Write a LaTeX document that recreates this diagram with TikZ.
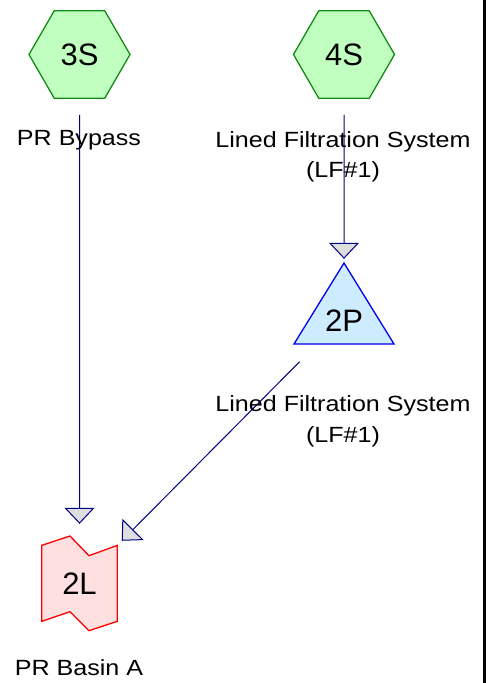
\documentclass[tikz,border=0pt]{standalone}
\usepackage{fontspec}
\setmainfont{Liberation Sans}
\newfontfamily\tagfont[FakeStretch=1.14]{Liberation Sans}
\usetikzlibrary{arrows.meta,shapes.geometric,backgrounds}

\definecolor{srcfill}{RGB}{192,255,192}
\definecolor{srcline}{RGB}{20,140,20}
\definecolor{pondfill}{RGB}{206,236,255}
\definecolor{pondline}{RGB}{0,0,235}
\definecolor{basinfill}{RGB}{255,224,224}
\definecolor{basinline}{RGB}{255,0,0}
\definecolor{linkcol}{RGB}{0,0,128}
\definecolor{tipfill}{RGB}{222,222,222}

\tikzset{
	source/.style={regular polygon, regular polygon sides=6, minimum size=101pt, inner sep=0pt,
		draw=srcline, fill=srcfill, line width=1.3pt, font=\fontsize{31}{31}\selectfont},
	pond/.style={minimum width=100pt, minimum height=81pt, inner sep=0pt,
		text height=55pt, text depth=0pt, font=\fontsize{31}{31}\selectfont},
	basin/.style={minimum width=75.6pt, minimum height=94.7pt, inner sep=0pt,
		font=\fontsize{31}{31}\selectfont},
	tag/.style={align=center, inner sep=0pt, font=\tagfont\fontsize{22}{30.5}\selectfont},
	link/.style={draw=linkcol, line width=1pt, -{Triangle[width=30pt,length=16pt,fill=tipfill]}},
}

\begin{document}
\begin{tikzpicture}[x=1pt, y=-1pt]
			\useasboundingbox (0,0) rectangle (489,683);
			
			%Subcatchments
			\node[source] (s3) at (79.5,54.5) {3S};
			\node[source] (s4) at (344,54.5) {4S};
			
			%Pond
			\node[pond] (p2) at (344,303.5) {2P};
			\begin{scope}[on background layer]
				\draw[draw=pondline, fill=pondfill, line width=1.3pt, shift={(p2.center)}]
					(0,-40.5) -- (50,40.5) -- (-50,40.5) -- cycle;
			\end{scope}
			
			%Link
			\node[basin] (l2) at (79.5,583.35) {2L};
			\begin{scope}[on background layer]
				\draw[draw=basinline, fill=basinfill, line width=1.3pt, shift={(l2.center)}]
					(-37.8,-38) -- (-9.5,-47.35) -- (9.5,-27.65) -- (37.8,-38)
					-- (37.8,38) -- (9.5,47.35) -- (-9.5,28.35) -- (-37.8,38) -- cycle;
			\end{scope}
			
			%Lines
			\draw[link, shorten <=16pt, shorten >=12pt] (s3.south) -- (l2.north);
			\draw[link, shorten <=16pt, shorten >=4pt] (s4.south) -- (p2.north);
			\draw[link, shorten <=63pt, shorten >=60pt] ([yshift=-13.5pt]p2.center) -- (l2.center);
			
			%Labels
			\node[tag] (t3) at (79,140.4) {PR Bypass};
			\node[tag] (t4) at (343,156.9) {Lined Filtration System\\(LF\#1)};
			\node[tag] (t2) at (343,421.2) {Lined Filtration System\\(LF\#1)};
			\node[tag] (t1) at (79,668.1) {PR Basin A};
			
			%Border
			\draw[line width=3pt] (484,0) -- (484,683);
\end{tikzpicture}
\end{document}
